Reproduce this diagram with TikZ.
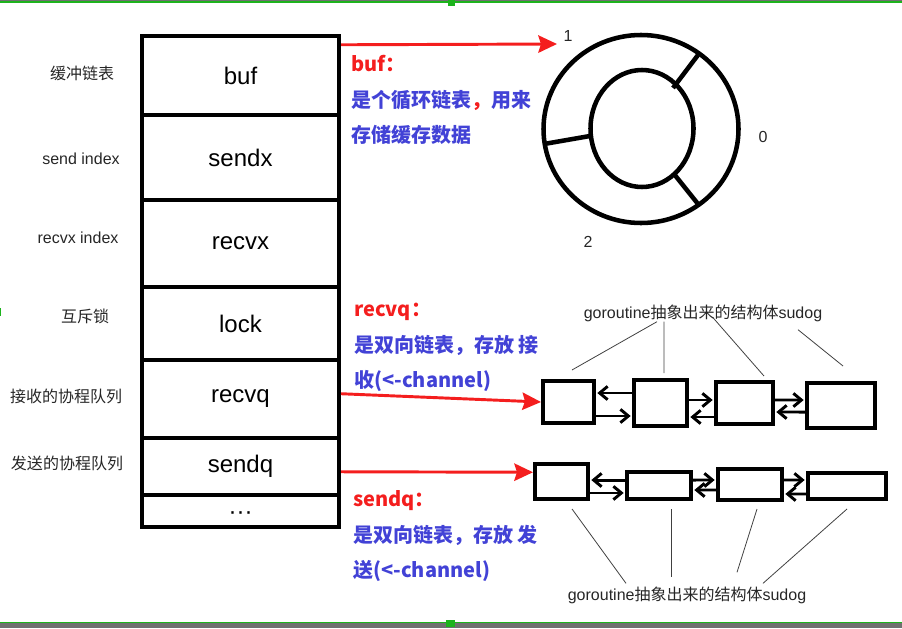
\documentclass[tikz,border=0pt]{standalone}
\usepackage{fontspec}
\setmainfont{Liberation Sans}
\newfontfamily\cjk{Noto Sans CJK SC}
\usetikzlibrary{arrows.meta}

\definecolor{notered}{HTML}{F41E1E}
\definecolor{noteblue}{HTML}{4242D6}
\definecolor{handle}{HTML}{1DB31D}
\definecolor{barcol}{HTML}{707070}

\tikzset{
  field/.style={draw, line width=3pt, minimum width=147.75pt, minimum height=#1*0.75pt,
    inner sep=0pt, font=\fontsize{18}{20}\selectfont},
  sudog/.style 2 args={draw, line width=3pt, minimum width=#1*0.75pt, minimum height=#2*0.75pt, inner sep=0pt},
  fieldname/.style={inner sep=0pt, text=black!85, font=\fontsize{12}{14}\selectfont},
  note/.style={align=left, anchor=base west, inner sep=0pt, text=noteblue,
    font=\cjk\bfseries\fontsize{15}{26.6}\selectfont},
  bigarrow/.style={notered, line width=2.2pt, -{Stealth[length=14pt,width=13pt,inset=2pt]}},
  link/.style={line width=2.2pt, shorten >=1pt, -{Straight Barb[length=6pt,width=10pt]}},
  pointer/.style={line width=0.6pt, black!75},
}

\begin{document}
\begin{tikzpicture}[x=0.75pt, y=-0.75pt]
  \useasboundingbox (0,0) rectangle (902,628);

  \fill[barcol] (0,0) rectangle (902,1.3);
  \draw[handle, line width=0.9pt] (0,2) -- (902,2);
  \fill[handle] (448,0) rectangle (455,6);
  \draw[handle, line width=0.9pt] (0,622.2) -- (902,622.2);
  \fill[barcol] (0,623) rectangle (902,628);
  \fill[handle] (446,620) rectangle (455,627);
  \fill[handle] (0,308) rectangle (1.3,316);

  \node[field=79] (buf)   at (240.5,75.5) {buf};
  \node[field=85] (sendx) at (240.5,157.5) {sendx};
  \node[field=87] (recvx) at (240.5,243.5) {recvx};
  \node[field=73] (lock)  at (240.5,323.5) {lock};
  \node[field=78] (recvq) at (240.5,399) {recvq};
  \node[field=57] (sendq) at (240.5,466.5) {sendq};
  \node[field=32, text height=12pt, text depth=0pt] (more) at (240.5,511) {···};

  \node[fieldname] (lbuf)   at (82,73)  {\cjk 缓冲链表};
  \node[fieldname] (lsendx) at (81,159) {send index};
  \node[fieldname] (lrecvx) at (78,238) {recvx index};
  \node[fieldname] (llock)  at (85,316) {\cjk 互斥锁};
  \node[fieldname] (lrecvq) at (66,396) {\cjk 接收的协程队列};
  \node[fieldname] (lsendq) at (67,463) {\cjk 发送的协程队列};

  \coordinate (ring) at (641,129);
  \coordinate (hub)  at (642,128.5);
  \draw[line width=3.4pt] (ring) ellipse [x radius=97.5, y radius=94];
  \draw[line width=3.4pt] (hub) ellipse [x radius=51.5, y radius=58.5];
  \draw[line width=3.4pt] (673,88) -- (698,55);
  \draw[line width=3.4pt] (590,136) -- (544,144);
  \draw[line width=3.4pt] (674,174) -- (698,204);
  \node[fieldname] (slot1) at (568,36)  {1};
  \node[fieldname] (slot0) at (763,137) {0};
  \node[fieldname] (slot2) at (588,242) {2};

  \node[note] (bufnote) at (351,142.5)
    {\textcolor{notered}{buf：}\\是个循环链表\textcolor{notered}{，}用来\\存储缓存数据};
  \node[note] (recvqnote) at (354,387.5)
    {\textcolor{notered}{recvq：}\\是双向链表，存放 接\\收(<-channel)};
  \node[note] (sendqnote) at (353,577.5)
    {\textcolor{notered}{sendq：}\\是双向链表，存放 发\\送(<-channel)};

  \node[sudog={51}{42}] (r1) at (568.5,402) {};
  \node[sudog={53}{46}] (r2) at (660.5,403) {};
  \node[sudog={57}{42}] (r3) at (744.5,403) {};
  \node[sudog={68}{45}] (r4) at (841,405.5) {};

  \node[sudog={53}{35}] (s1) at (561.5,481.5) {};
  \node[sudog={64}{27}] (s2) at (659,485.5) {};
  \node[sudog={64}{31}] (s3) at (750,484.5) {};
  \node[sudog={78}{26}] (s4) at (847,486) {};

  \coordinate (bufin) at (557,44);
  \draw[bigarrow] (buf.17) -- (bufin);
  \draw[bigarrow] (recvq.3) -- (r1.west);
  \draw[bigarrow] (sendq.-3) -- (s1.162);

  \draw[link] ([yshift=7.5pt]r2.west) -- ([yshift=6.75pt]r1.east);
  \draw[link] ([yshift=-10.5pt]r1.east) -- ([yshift=-9.75pt]r2.west);
  \draw[link] ([yshift=2.25pt]r2.east) -- ([yshift=2.25pt]r3.west);
  \draw[link] ([yshift=-10.5pt]r3.west) -- ([yshift=-10.5pt]r2.east);
  \draw[link] ([yshift=2.25pt]r3.east) -- ([yshift=4.1pt]r4.west);
  \draw[link] ([yshift=-4.9pt]r4.west) -- ([yshift=-6.75pt]r3.east);

  \draw[link] ([yshift=4.1pt]s2.west) -- ([yshift=1.1pt]s1.east);
  \draw[link] ([yshift=-8.6pt]s1.east) -- ([yshift=-5.6pt]s2.west);
  \draw[link] ([yshift=4.1pt]s2.east) -- ([yshift=3.4pt]s3.west);
  \draw[link] ([yshift=-4.1pt]s3.west) -- ([yshift=-3.4pt]s2.east);
  \draw[link] ([yshift=3.4pt]s3.east) -- ([yshift=4.5pt]s4.west);
  \draw[link] ([yshift=-6pt]s4.west) -- ([yshift=-7.1pt]s3.east);

  \node[fieldname] (sudogtop) at (703,313) {goroutine{\cjk 抽象出来的结构体}sudog};
  \node[fieldname] (sudogbot) at (687,595) {goroutine{\cjk 抽象出来的结构体}sudog};

  \draw[pointer] ([xshift=-34.5pt]sudogtop.south) -- ([xshift=2.6pt,yshift=6.75pt]r1.north);
  \draw[pointer] ([xshift=-29.25pt]sudogtop.south) -- ([xshift=2.6pt,yshift=3.75pt]r2.north);
  \draw[pointer] ([xshift=7.5pt,yshift=3pt]sudogtop.south) -- ([xshift=14.6pt,yshift=3pt]r3.north);
  \draw[pointer] ([xshift=71.25pt,yshift=-6pt]sudogtop.south) -- ([xshift=1.5pt,yshift=11.25pt]r4.north);

  \draw[pointer] ([xshift=7.9pt,yshift=-6pt]s1.south) -- ([xshift=-45.75pt,yshift=2.25pt]sudogbot.north);
  \draw[pointer] ([xshift=9pt,yshift=-6pt]s2.south) -- ([xshift=-12pt,yshift=6.75pt]sudogbot.north);
  \draw[pointer] ([xshift=5.25pt,yshift=-5.25pt]s3.south) -- ([xshift=37.5pt,yshift=10.5pt]sudogbot.north);
  \draw[pointer] ([yshift=-6pt]s4.south) -- ([xshift=57pt,yshift=2.25pt]sudogbot.north);
\end{tikzpicture}
\end{document}
